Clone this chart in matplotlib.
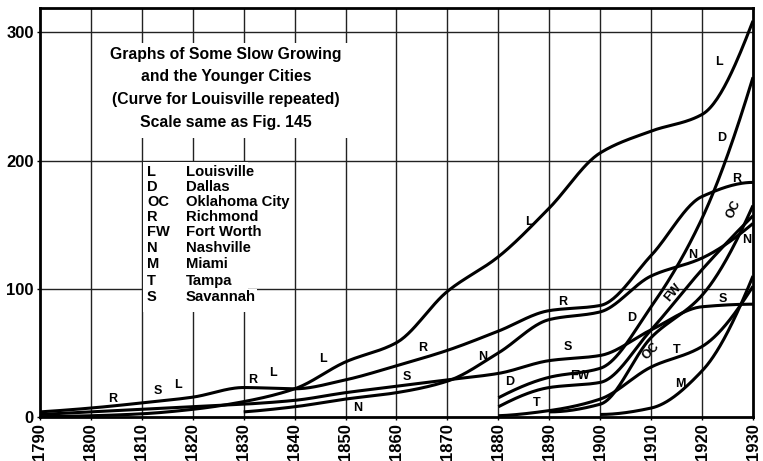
import numpy as np
import matplotlib
matplotlib.use("Agg")
import matplotlib.pyplot as plt
from matplotlib.patches import Rectangle

# ---- data (population, thousands) ----
years = [1790, 1800, 1810, 1820, 1830, 1840, 1850, 1860, 1870, 1880, 1890, 1900, 1910, 1920, 1930]

louisville = [0.3, 1, 2.5, 6, 12, 22, 43, 58, 98, 125, 163, 206, 223, 236, 309]
richmond = [4, 7, 11, 15.5, 23, 22, 29, 40, 52, 67, 83, 87, 126, 172, 183]
savannah = [2, 4, 6, 8, 10, 13, 19, 24, 29, 34, 44, 48, 68, 86, 88]
nashville_years = [1830, 1840, 1850, 1860, 1870, 1880, 1890, 1900, 1910, 1920, 1930]
nashville = [4, 8, 14, 19, 28, 50, 76, 82, 110, 124, 151]
dallas_years = [1880, 1890, 1900, 1910, 1920, 1930]
dallas = [15, 31, 38, 86, 155, 265]
fortworth_years = [1880, 1890, 1900, 1910, 1920, 1930]
fortworth = [8, 23, 27, 68, 115, 157]
tampa_years = [1880, 1890, 1900, 1910, 1920, 1930]
tampa = [1, 5, 14, 39, 55, 102]
okc_years = [1890, 1900, 1910, 1920, 1930]
okc = [4, 10, 62, 95, 165]
miami_years = [1900, 1910, 1920, 1930]
miami = [2, 7, 36, 110]

series = [
    (years, louisville), (years, richmond), (years, savannah),
    (nashville_years, nashville), (dallas_years, dallas),
    (fortworth_years, fortworth), (tampa_years, tampa),
    (okc_years, okc), (miami_years, miami),
]

# curve letters: (text, year, value, rotation)
curve_labels = [
    ("R", 1804.3, 14, 0), ("S", 1813.2, 20, 0), ("L", 1817, 25, 0),
    ("R", 1831.8, 29, 0), ("L", 1835.8, 34, 0), ("L", 1845.6, 45, 0),
    ("N", 1852.4, 7, 0), ("S", 1862, 31, 0), ("R", 1865.2, 54, 0),
    ("N", 1877, 47, 0), ("L", 1886, 152, 0), ("D", 1882.3, 27, 0),
    ("T", 1887.6, 11, 0), ("FW", 1896, 32, 0), ("S", 1893.7, 55, 0),
    ("R", 1892.7, 90, 0), ("D", 1906.2, 77, 0), ("OC", 1910, 51, 45),
    ("T", 1915, 52, 0), ("M", 1915.7, 26, 0), ("FW", 1914.3, 97, 50),
    ("S", 1924, 92, 0), ("N", 1918.2, 126, 0), ("N", 1928.8, 138, 0),
    ("OC", 1926.3, 162, 65), ("R", 1926.7, 186, 0), ("D", 1923.9, 218, 0),
    ("L", 1923.3, 277, 0),
]

title_lines = ["Graphs of Some Slow Growing", "and the Younger Cities",
               "(Curve for Louisville repeated)", "Scale same as Fig. 145"]

key_codes = ["L", "D", "OC", "R", "FW", "N", "M", "T", "S"]
key_names = ["Louisville", "Dallas", "Oklahoma City", "Richmond", "Fort Worth",
             "Nashville", "Miami", "Tampa", "Savannah"]

x_ticks = list(range(1790, 1931, 10))
y_ticks = [0, 100, 200, 300]


def pchip(x, y, xs):
    x = np.asarray(x, float)
    y = np.asarray(y, float)
    h = np.diff(x)
    delta = np.diff(y) / h
    n = len(x)
    d = np.zeros(n)
    for k in range(1, n - 1):
        if delta[k - 1] * delta[k] > 0:
            w1 = 2 * h[k] + h[k - 1]
            w2 = h[k] + 2 * h[k - 1]
            d[k] = (w1 + w2) / (w1 / delta[k - 1] + w2 / delta[k])
    if n > 2:
        for k, (i0, i1) in ((0, (0, 1)), (n - 1, (n - 2, n - 3))):
            hh0, hh1 = h[i0], h[i1]
            dd0, dd1 = delta[i0], delta[i1]
            dk = ((2 * hh0 + hh1) * dd0 - hh0 * dd1) / (hh0 + hh1)
            if np.sign(dk) != np.sign(dd0):
                dk = 0
            elif np.sign(dd0) != np.sign(dd1) and abs(dk) > abs(3 * dd0):
                dk = 3 * dd0
            d[k] = dk
    else:
        d[:] = delta[0]
    idx = np.clip(np.searchsorted(x, xs) - 1, 0, n - 2)
    t = (xs - x[idx]) / h[idx]
    h00 = 2 * t**3 - 3 * t**2 + 1
    h10 = t**3 - 2 * t**2 + t
    h01 = -2 * t**3 + 3 * t**2
    h11 = t**3 - t**2
    return (h00 * y[idx] + h10 * h[idx] * d[idx]
            + h01 * y[idx + 1] + h11 * h[idx] * d[idx + 1])


plt.rcParams['font.family'] = ['Liberation Sans', 'DejaVu Sans']

fig = plt.figure(figsize=(7.63, 4.61), dpi=100)
ax = fig.add_axes([0.0524, 0.0954, 0.9345, 0.8872])
ax.set_xlim(1790, 1930)
ax.set_ylim(0, 319)

# grid
for xv in x_ticks[1:-1]:
    ax.axvline(xv, color='#222222', lw=1.0, zorder=1)
for yv in y_ticks[1:]:
    ax.axhline(yv, color='#222222', lw=1.0, zorder=1)

# white panels behind the title and the key
ax.add_patch(Rectangle((1801.6, 218), 1851.6 - 1801.6, 292 - 218,
                       facecolor='white', edgecolor='none', zorder=1.5))
ax.add_patch(Rectangle((1810.25, 82), 1830.8 - 1810.25, 199 - 82,
                       facecolor='white', edgecolor='none', zorder=1.5))

# curves
for xs, ys in series:
    xx = np.linspace(xs[0], xs[-1], 400)
    ax.plot(xx, pchip(xs, ys, xx), color='black', lw=2.2,
            solid_capstyle='butt', zorder=3)

for txt, xv, yv, rot in curve_labels:
    ax.text(xv, yv, txt, ha='center', va='center', rotation=rot,
            fontsize=9, fontweight='bold', zorder=4)

# title block
for i, line in enumerate(title_lines):
    ax.text(1826.5, 283 - i * 17.8, line, ha='center', va='center',
            fontsize=11.3, fontweight='bold', zorder=4)

# key
key_y = [191, 179.5, 168, 156, 144.5, 131.5, 119, 106, 93.5]
for code, name, yv in zip(key_codes, key_names, key_y):
    ax.text(1811.0, yv, code, ha='left', va='center', fontsize=10.5,
            fontweight='bold', zorder=4)
    ax.text(1818.6, yv, name, ha='left', va='center', fontsize=10.7,
            fontweight='bold', zorder=4,
            bbox=dict(facecolor='white', edgecolor='none', pad=0.6))

ax.set_xticks(x_ticks)
ax.set_xticklabels([str(v) for v in x_ticks], rotation=90, fontsize=12,
                   fontweight='bold')
ax.set_yticks(y_ticks)
ax.set_yticklabels([str(v) for v in y_ticks], fontsize=12, fontweight='bold')
ax.tick_params(axis='both', length=2, width=1, pad=2.5, colors='black')
for sp in ax.spines.values():
    sp.set_linewidth(2.0)
    sp.set_zorder(5)

fig.savefig("out.png", dpi=100, facecolor='white')
